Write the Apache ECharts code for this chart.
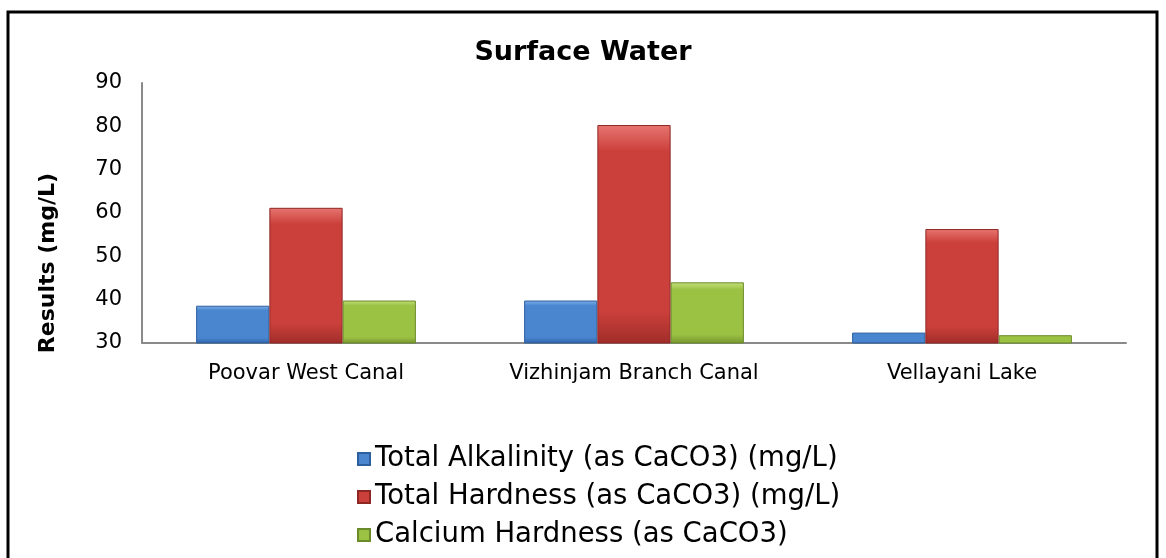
<!DOCTYPE html>
<html>
<head>
<meta charset="utf-8">
<script src="https://cdn.jsdelivr.net/npm/echarts@6/dist/echarts.min.js"></script>
<style>
  html, body { margin: 0; padding: 0; background: #fff; }
  #chart { width: 1166px; height: 558px; }
</style>
</head>
<body>
<div id="chart"></div>
<script>
// Sampling sites and measured parameters (mg/L)
const sites = ['Poovar West Canal', 'Vizhinjam Branch Canal', 'Vellayani Lake'];
const seriesNames = [
  'Total Alkalinity (as CaCO3) (mg/L)',
  'Total Hardness (as CaCO3) (mg/L)',
  'Calcium Hardness (as CaCO3)'
];
const totalAlkalinity = [38.6, 39.8, 32.4];
const totalHardness = [61.2, 80.3, 56.3];
const calciumHardness = [39.8, 44.0, 31.8];
const yTicks = { min: 30, max: 90, interval: 10 };

const FONT = 'DejaVu Sans';

// Bevelled bar fill: lighter top, darker sides and bottom
function bevel(light, mid, dark) {
  return new echarts.graphic.LinearGradient(0, 0, 0, 1, [
    { offset: 0, color: light },
    { offset: 0.12, color: mid },
    { offset: 0.85, color: mid },
    { offset: 1, color: dark }
  ]);
}
const palette = [
  { light: '#7fb1ea', mid: '#4a86d0', dark: '#2f64a8', border: '#2c5f9e' },
  { light: '#e77570', mid: '#cc403b', dark: '#a02d29', border: '#8e2724' },
  { light: '#c4e07a', mid: '#9cc244', dark: '#76952f', border: '#6b8a2a' }
];
const values = [totalAlkalinity, totalHardness, calciumHardness];

const chart = echarts.init(document.getElementById('chart'), null, { renderer: 'canvas' });

chart.setOption({
  backgroundColor: '#ffffff',
  animation: false,
  title: {
    text: 'Surface Water',
    left: 'center',
    top: 34,
    textStyle: { fontFamily: FONT, fontWeight: 'bold', fontSize: 27, color: '#000' }
  },
  grid: { left: 142, right: 40, top: 83, bottom: 215 },
  legend: {
    orient: 'vertical',
    left: 352,
    top: 440,
    itemWidth: 12,
    itemHeight: 12,
    itemGap: 10,
    icon: 'rect',
    textStyle: { fontFamily: FONT, fontSize: 27.5, color: '#000' },
    data: seriesNames
  },
  xAxis: {
    type: 'category',
    data: sites,
    axisLine: { lineStyle: { color: '#8a8a8a', width: 2 } },
    axisTick: { show: false },
    axisLabel: { fontFamily: FONT, fontSize: 21, color: '#000', margin: 20 }
  },
  yAxis: {
    type: 'value',
    min: yTicks.min,
    max: yTicks.max,
    interval: yTicks.interval,
    axisLine: { show: true, lineStyle: { color: '#8a8a8a', width: 2 } },
    axisTick: { show: false },
    splitLine: { show: false },
    axisLabel: { fontFamily: FONT, fontSize: 21, color: '#000', margin: 20 }
  },
  series: seriesNames.map((name, i) => ({
    name: name,
    type: 'bar',
    data: values[i],
    barGap: '0%',
    barCategoryGap: '33%',
    itemStyle: {
      color: bevel(palette[i].light, palette[i].mid, palette[i].dark),
      borderColor: palette[i].border,
      borderWidth: 1
    }
  })),
  graphic: [
    {
      type: 'rect',
      shape: { x: 8, y: 12, width: 1149, height: 600 },
      style: { fill: 'none', stroke: '#000', lineWidth: 3 },
      z: -1
    },
    {
      type: 'text',
      x: 48,
      y: 263,
      rotation: Math.PI / 2,
      style: {
        text: 'Results (mg/L)',
        fontFamily: FONT,
        fontWeight: 'bold',
        fontSize: 22,
        fill: '#000',
        align: 'center',
        verticalAlign: 'middle'
      }
    }
  ]
});
</script>
</body>
</html>
